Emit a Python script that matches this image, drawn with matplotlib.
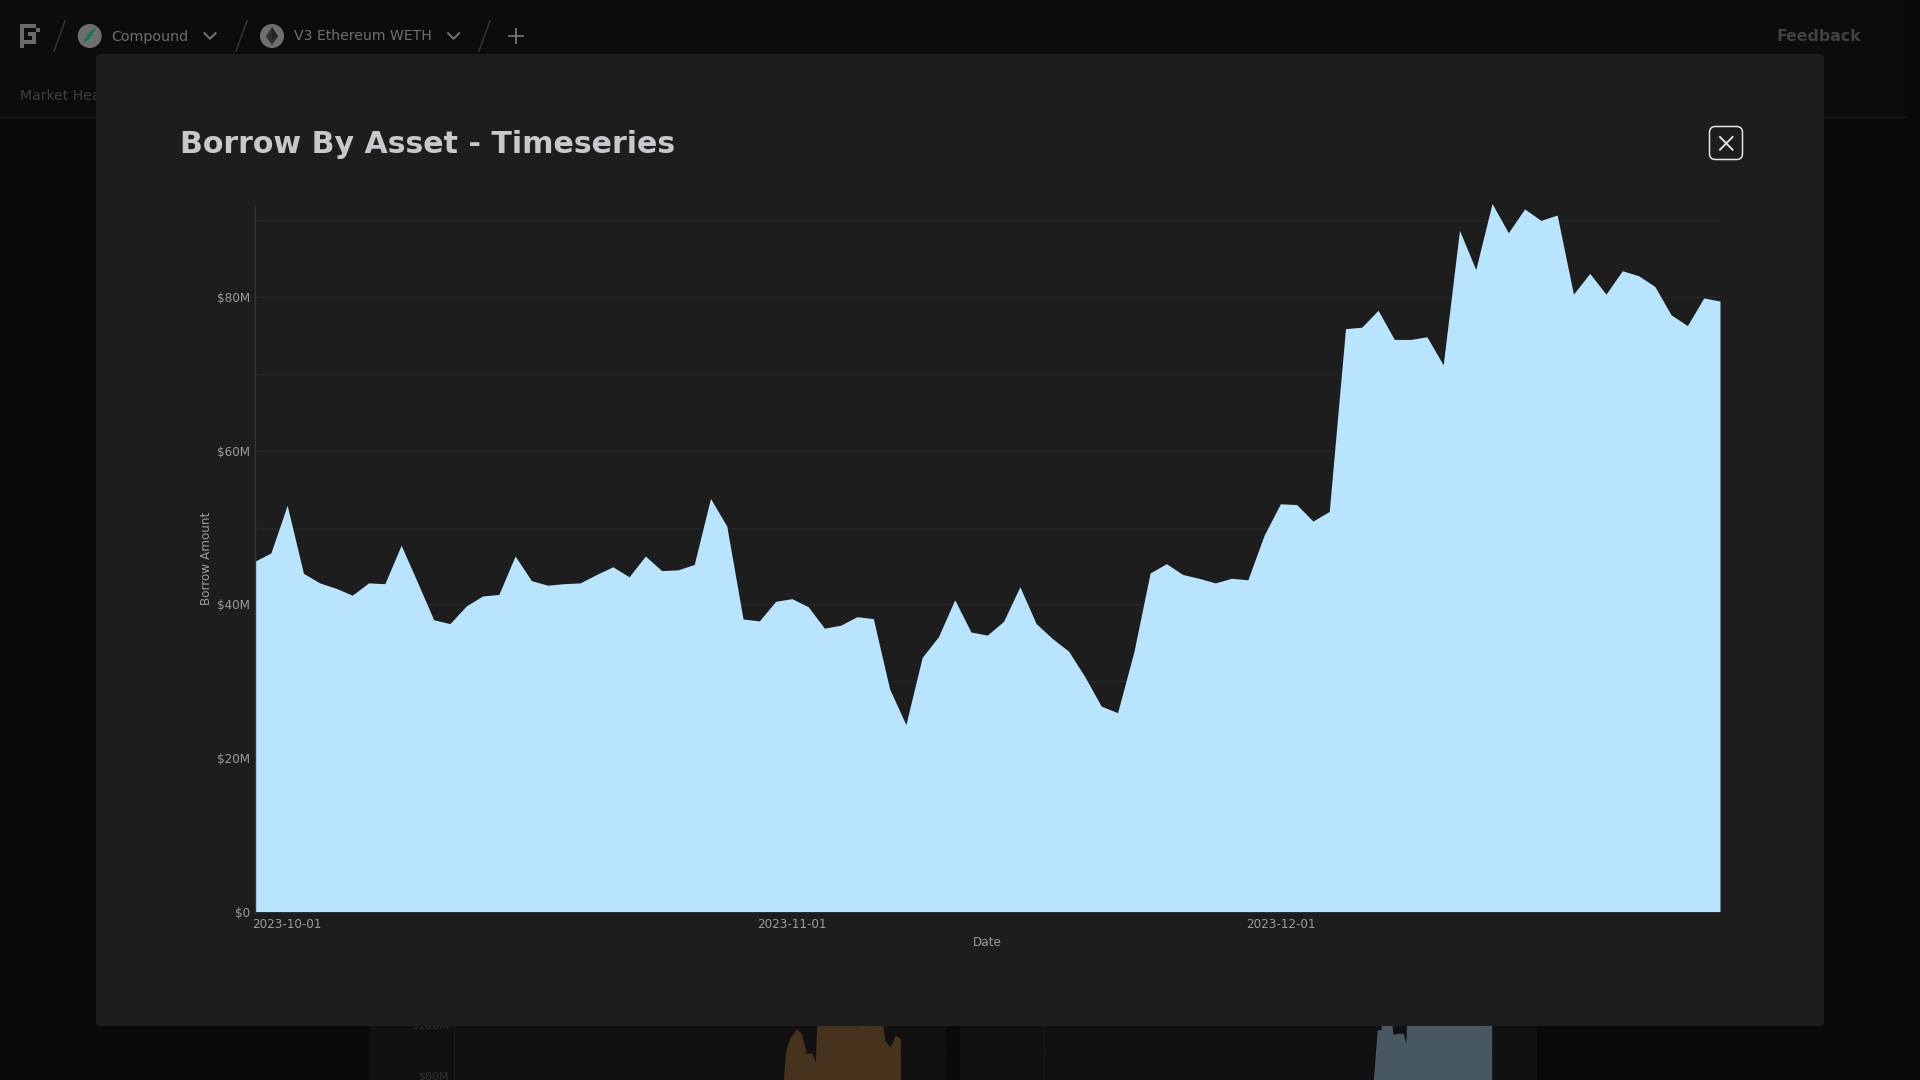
import matplotlib
matplotlib.use("Agg")
import matplotlib.pyplot as plt
import pandas as pd
from matplotlib.patches import Circle, FancyBboxPatch, Polygon, Rectangle

W, H = 1920, 1080

# main chart, one value per day in $M
start_date = "2023-09-29"
borrow = [45.6, 46.7, 52.9, 44.05, 42.8, 42.1, 41.2, 42.8, 42.7, 47.7,
          42.9, 38.0, 37.5, 39.8, 41.1, 41.3, 46.3, 43.1, 42.5, 42.7,
          42.8, 43.9, 44.9, 43.6, 46.3, 44.4, 44.5, 45.2, 53.8, 50.2,
          38.1, 37.85, 40.4, 40.75, 39.7, 36.9, 37.3, 38.4, 38.15, 29.0,
          24.35, 33.1, 35.8, 40.6, 36.4, 36.0, 37.8, 42.3, 37.5, 35.55,
          33.9, 30.55, 26.75, 25.9, 33.8, 44.1, 45.3, 43.9, 43.4, 42.8,
          43.4, 43.2, 49.0, 53.1, 53.0, 50.85, 52.1, 75.9, 76.1, 78.3,
          74.5, 74.5, 74.85, 71.2, 88.7, 83.6, 92.2, 88.4, 91.5, 90.0,
          90.7, 80.4, 83.1, 80.4, 83.45, 82.8, 81.4, 77.7, 76.3, 79.9, 79.5]
date_ticks = ["2023-10-01", "2023-11-01", "2023-12-01"]
major_y = [0, 20, 40, 60, 80]
major_y_labels = ["$0", "$20M", "$40M", "$60M", "$80M"]
minor_y = [10, 30, 50, 70, 90]

# the two charts behind the modal, only their lower part shows
orange_days = [0, 2, 5, 10, 14, 18, 22, 25, 27, 56, 57, 59, 64, 65, 73, 79, 83, 87, 91]
orange_vals = [78.7, 90.6, 94.9, 98.5, 96.8, 89.0, 89.3, 85.8, 115, 115, 97.4, 115,
               98.8, 115, 115, 93.9, 91.6, 96.1, 94.9]
slate_days = [0, 3, 6, 8, 12, 15, 19, 23, 25, 27, 82, 83, 84, 91]
slate_vals = [78.7, 98.1, 98.3, 115, 115, 96.5, 96.8, 96.8, 92.9, 115, 115, 99.1, 115, 115]

PAGE = "#090909"
CARD = "#111111"
MODAL = "#1d1d1d"
FILL = "#b8e5fd"
GRID = "#252525"
LABEL = "#9b9b9b"

plt.rcParams["font.family"] = "DejaVu Sans"
fig = plt.figure(figsize=(19.2, 10.8), dpi=100, facecolor=PAGE)


def px_axes(zorder):
    a = fig.add_axes([0, 0, 1, 1], zorder=zorder)
    a.set_xlim(0, W)
    a.set_ylim(H, 0)
    a.axis("off")
    return a


def px_size(px):
    return px * 0.72


# page behind the modal
bg = px_axes(0)
bg.add_patch(Rectangle((0, 0), 1905, 117, fc="#0c0c0c", ec="none"))
bg.plot([0, 1905], [117, 117], color="#1b1b1b", lw=1)
bg.add_patch(Rectangle((369.5, 1000), 576, 80, fc=CARD, ec="none"))
bg.add_patch(Rectangle((959.5, 1000), 577.5, 80, fc=CARD, ec="none"))

# logo, pixel blocks
for x0, y0, w, h in [(20, 24, 16, 4), (36, 28, 4, 4), (20, 24, 4, 20), (28, 32, 8, 4),
                     (32, 32, 4, 12), (20, 40, 16, 4), (20, 44, 4, 4)]:
    bg.add_patch(Rectangle((x0, y0), w, h, fc="#6b6b6b", ec="none"))

for sx in [54, 236, 479]:
    bg.plot([sx, sx + 11], [51, 21], color="#353535", lw=1.1)

bg.add_patch(Circle((89.7, 36), 12, fc="#6e6e6e", ec="none"))
for dx, dy in [(0, 0), (2.5, -3.7), (5, -7.4)]:
    bg.add_patch(Polygon([(84 + dx, 39.5 + dy), (90 + dx, 35.5 + dy), (90 + dx, 38.6 + dy),
                          (84 + dx, 42.6 + dy)], fc="#0e7a57", ec="none"))
bg.add_patch(Circle((272, 36), 12, fc="#6e6e6e", ec="none"))
bg.add_patch(Polygon([(272, 27), (278, 36.5), (272, 45), (266, 36.5)], fc="#303030", ec="none"))
bg.add_patch(Polygon([(272, 27), (278, 36.5), (272, 40)], fc="#222222", ec="none"))

bg.text(111, 36.5, "Compound", color="#6e6e6e", fontsize=px_size(14.3), va="center")
bg.text(294, 36.5, "V3 Ethereum WETH", color="#6e6e6e", fontsize=px_size(14), va="center")
for cx in [210, 453.6]:
    bg.plot([cx - 5.5, cx, cx + 5.5], [33.2, 38.8, 33.2], color="#6e6e6e", lw=1.5)
bg.plot([515.6, 515.6], [29, 43], color="#777777", lw=1.3)
bg.plot([508.6, 522.6], [36, 36], color="#777777", lw=1.3)
bg.text(20, 95.5, "Market Hea", color="#3e3e3e", fontsize=px_size(14), va="center")
bg.text(1776.5, 36.3, "Feedback", color="#414141", fontsize=px_size(15.8), va="center",
        fontweight="bold")
bg.text(448.5, 1076.7, "$80M", color="#2f2f2f", fontsize=px_size(11), ha="right", va="center")
bg.text(448.5, 1025, "$100M", color="#2f2f2f", fontsize=px_size(11), ha="right", va="center")


def mini_chart(left, right, day0, day_px, days, vals, color):
    # x in days, y in $M: 80 sits at y=1076.7 and 20M takes 51.7px
    a = fig.add_axes([left / W, 0, (right - left) / W, 80 / H], zorder=1)
    a.set_facecolor("none")
    a.set_xlim((left - day0) / day_px, (right - day0) / day_px)
    a.set_ylim(78.72, 109.7)
    a.fill_between(days, 0, vals, color=color, lw=0)
    a.axvline((left - day0) / day_px, color="#1a1a1a", lw=1.6)
    a.set_yticks([90])
    a.grid(axis="y", color="#161616", lw=1)
    a.set_axisbelow(True)
    a.set_xticks([])
    a.tick_params(length=0, labelleft=False)
    for s in a.spines.values():
        s.set_visible(False)


mini_chart(454, 945, 783.3, 1.286, orange_days, orange_vals, "#47321d")
mini_chart(1044, 1537, 1373.3, 1.30, slate_days, slate_vals, "#475862")

# modal
top = px_axes(2)
top.add_patch(FancyBboxPatch((100, 58), 1720, 964, boxstyle="round,pad=4,rounding_size=5",
                             fc=MODAL, ec="none"))
top.text(180.5, 153, "Borrow By Asset - Timeseries", color="#c8c8cc", fontsize=px_size(30),
         fontweight="bold", va="baseline")
top.add_patch(FancyBboxPatch((1714, 131), 24, 24, boxstyle="round,pad=4.5,rounding_size=6",
                             fc=MODAL, ec="#e6e6e6", lw=1.1))
top.plot([1720, 1732.5], [137, 149.7], color="#dddddd", lw=1.4)
top.plot([1720, 1732.5], [149.7, 137], color="#dddddd", lw=1.4)

# main chart
y_top = 92.4
plot_left, plot_right, plot_bottom = 254.6, 1720, 911.6
plot_top = plot_bottom - y_top * 7.68
ax = fig.add_axes([plot_left / W, 1 - plot_bottom / H, (plot_right - plot_left) / W,
                   (plot_bottom - plot_top) / H], zorder=3)
ax.set_facecolor("none")

dates = pd.date_range(start_date, periods=len(borrow), freq="D")
ax.fill_between(dates, 0, borrow, color=FILL, lw=0, zorder=2)
ax.set_xlim(dates[0], dates[-1])
ax.set_ylim(0, y_top)

ax.set_xticks(pd.to_datetime(date_ticks))
ax.set_xticklabels(date_ticks)
ax.set_yticks(major_y)
ax.set_yticklabels(major_y_labels)
ax.set_yticks(minor_y, minor=True)
ax.grid(which="both", axis="y", color=GRID, lw=1, zorder=0)
ax.set_axisbelow(True)
ax.tick_params(which="both", length=0, labelsize=px_size(12), labelcolor=LABEL)
ax.tick_params(axis="x", pad=4.6)
ax.tick_params(axis="y", pad=3.5)

for name in ["top", "right", "bottom"]:
    ax.spines[name].set_visible(False)
ax.spines["left"].set_color("#363636")
ax.spines["left"].set_linewidth(1)
ax.spines["left"].set_bounds(0, 91.9)

top.text(987, 942.5, "Date", color=LABEL, fontsize=px_size(12), ha="center", va="center")
top.text(206, 558.7, "Borrow Amount", color=LABEL, fontsize=px_size(12), ha="center",
         va="center", rotation=90)

fig.savefig("out.png", dpi=100, facecolor=fig.get_facecolor())
